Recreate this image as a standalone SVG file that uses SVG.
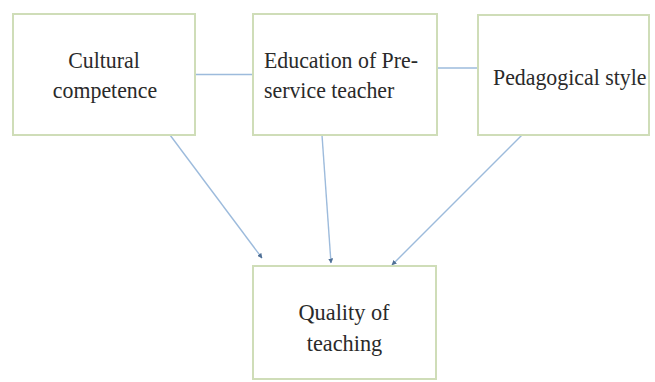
<svg xmlns="http://www.w3.org/2000/svg" width="655" height="382" viewBox="0 0 655 382">
  <style>
    .box { fill: #ffffff; stroke: #cfddb8; stroke-width: 2; }
    .label { font-size: 24px; fill: #2a2a2a; }
    .mid { text-anchor: middle; }
    .link { stroke: #9dbbdc; stroke-width: 1.6; fill: none; }
    .arrow { stroke: #9dbbdc; stroke-width: 1.4; fill: none; marker-end: url(#tip); }
  </style>
  <defs>
    <marker id="tip" viewBox="0 0 10 10" refX="9" refY="5" markerWidth="5" markerHeight="5" orient="auto" markerUnits="userSpaceOnUse">
      <path d="M0,0 L10,5 L0,10 z" fill="#4f6f95"/>
    </marker>
  </defs>
  <rect width="655" height="382" fill="#ffffff"/>

  <g id="connectors">
    <line class="link" x1="195" y1="74.5" x2="253" y2="74.5"/>
    <line class="link" x1="437" y1="68" x2="478" y2="68"/>
    <line class="arrow" x1="170" y1="135" x2="262" y2="258"/>
    <line class="arrow" x1="322" y1="135" x2="331" y2="263"/>
    <line class="arrow" x1="522" y1="135" x2="392" y2="265"/>
  </g>

  <!-- labels are set in a slightly condensed serif (scaled 0.91 horizontally) -->
  <g id="cultural-competence">
    <rect class="box" x="13" y="14" width="182" height="121"/>
    <text class="label mid" font-family="Liberation Serif, serif" transform="translate(104,68) scale(0.91,1)">Cultural</text>
    <text class="label mid" font-family="Liberation Serif, serif" transform="translate(105,98) scale(0.91,1)">competence</text>
  </g>

  <g id="education-preservice">
    <rect class="box" x="253" y="14" width="184" height="121"/>
    <text class="label" font-family="Liberation Serif, serif" transform="translate(264,68) scale(0.91,1)">Education of Pre-</text>
    <text class="label" font-family="Liberation Serif, serif" transform="translate(264,98) scale(0.91,1)">service teacher</text>
  </g>

  <g id="pedagogical-style">
    <rect class="box" x="478" y="15" width="171" height="120"/>
    <text class="label" font-family="Liberation Serif, serif" transform="translate(493,85) scale(0.91,1)">Pedagogical style</text>
  </g>

  <g id="quality-of-teaching">
    <rect class="box" x="253" y="266" width="183" height="113"/>
    <text class="label mid" font-family="Liberation Serif, serif" transform="translate(344,320) scale(0.93,1)">Quality of</text>
    <text class="label mid" font-family="Liberation Serif, serif" transform="translate(344.5,351) scale(0.93,1)">teaching</text>
  </g>
</svg>
